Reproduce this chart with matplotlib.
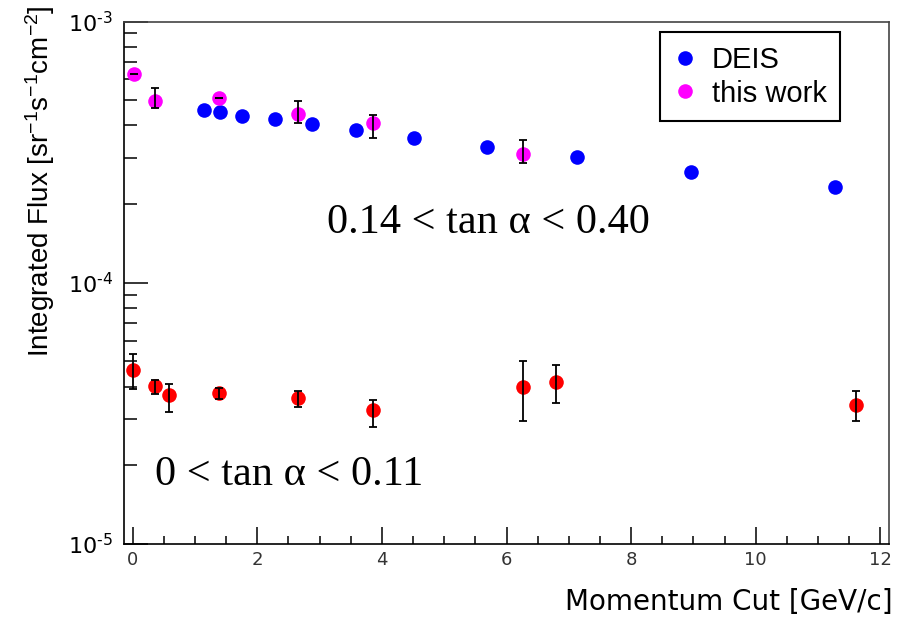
import matplotlib
matplotlib.use("Agg")
import numpy as np
import matplotlib.pyplot as plt
from matplotlib.ticker import MultipleLocator, LogLocator, NullFormatter, FuncFormatter
from matplotlib.lines import Line2D

plt.rcParams['font.family'] = ['Liberation Sans', 'DejaVu Sans']
plt.rcParams['mathtext.fontset'] = 'dejavusans'
plt.rcParams['mathtext.rm'] = 'Liberation Sans'
plt.rcParams['mathtext.it'] = 'Liberation Sans:italic'

# DEIS (0.14 < tan a < 0.40)
deis_x = [1.14, 1.40, 1.75, 2.28, 2.87, 3.58, 4.51, 5.69, 7.13, 8.96, 11.28]
deis_y = [4.58e-4, 4.49e-4, 4.36e-4, 4.23e-4, 4.04e-4, 3.85e-4, 3.58e-4,
          3.31e-4, 3.02e-4, 2.66e-4, 2.32e-4]

# this work (0.14 < tan a < 0.40)
work_x = [0.02, 0.35, 1.38, 2.65, 3.86, 6.26]
work_y = [6.29e-4, 4.95e-4, 5.09e-4, 4.43e-4, 4.10e-4, 3.11e-4]
work_lo = [6.29e-4, 4.65e-4, 5.09e-4, 4.10e-4, 3.59e-4, 2.88e-4]
work_hi = [6.29e-4, 5.56e-4, 5.09e-4, 4.96e-4, 4.38e-4, 3.52e-4]

# 0 < tan a < 0.11
low_x = [0.01, 0.35, 0.59, 1.38, 2.65, 3.86, 6.26, 6.79, 11.61]
low_y = [4.63e-5, 4.03e-5, 3.73e-5, 3.79e-5, 3.63e-5, 3.25e-5, 3.98e-5, 4.17e-5, 3.40e-5]
low_lo = [3.92e-5, 3.74e-5, 3.20e-5, 3.59e-5, 3.35e-5, 2.80e-5, 2.96e-5, 3.47e-5, 2.96e-5]
low_hi = [5.33e-5, 4.24e-5, 4.09e-5, 3.96e-5, 3.84e-5, 3.56e-5, 5.00e-5, 4.85e-5, 3.86e-5]

W, H = 897, 617
fig = plt.figure(figsize=(W / 100, H / 100), dpi=100)
ax = fig.add_axes([124 / W, 1 - 544 / H, (889 - 124) / W, (544 - 21.5) / H])

ms = 10.5
ax.plot(deis_x, deis_y, 'o', color='#0000ff', ms=ms, mec='none', zorder=3)
ax.plot(work_x, work_y, 'o', color='#ff00ff', ms=ms, mec='none', zorder=3)
ax.plot(low_x, low_y, 'o', color='#ff0000', ms=ms, mec='none', zorder=3)

def bars(x, y, lo, hi):
    y = np.array(y)
    err = [y - np.array(lo), np.array(hi) - y]
    ax.errorbar(x, y, yerr=err, fmt='none', ecolor='black', elinewidth=1.3,
                capsize=3, capthick=1.3, zorder=4)

bars(work_x, work_y, work_lo, work_hi)
bars(low_x, low_y, low_lo, low_hi)

ax.set_yscale('log')
ax.set_xlim(-0.14, 12.14)
ax.set_ylim(1e-5, 1e-3)

ax.xaxis.set_major_locator(MultipleLocator(2))
ax.xaxis.set_minor_locator(MultipleLocator(0.5))
ax.yaxis.set_major_locator(LogLocator(base=10, numticks=10))
ax.yaxis.set_minor_locator(LogLocator(base=10, subs=np.arange(2, 10), numticks=20))
ax.yaxis.set_minor_formatter(NullFormatter())
ax.yaxis.set_major_formatter(FuncFormatter(
    lambda v, p: r'$\mathregular{10^{\text{-}%d}}$' % abs(round(np.log10(v)))))

ax.tick_params(axis='x', which='major', direction='in', length=12, width=1.1,
               labelsize=13, labelcolor='#333333', pad=5)
ax.tick_params(axis='x', which='minor', direction='in', length=6, width=1.1)
ax.tick_params(axis='y', which='major', direction='in', length=17, width=1.1,
               labelsize=16, pad=8)
ax.tick_params(axis='y', which='minor', direction='in', length=9, width=1.1)
for lab in ax.get_xticklabels():
    lab.set_family('DejaVu Sans')
for lab in ax.get_yticklabels():
    lab.set_family('DejaVu Sans')

for s in ax.spines.values():
    s.set_linewidth(1.2)
ax.spines['top'].set_color('#444444')
ax.spines['right'].set_color('#444444')

fig.text(40 / W, 1 - 5 / H, r'Integrated Flux [sr$^{-1}$s$^{-1}$cm$^{-2}$]',
         rotation=90, ha='center', va='top', fontsize=20, math_fontfamily='custom')
fig.text(893 / W, 1 - 602 / H, 'Momentum Cut [GeV/c]', ha='right', va='center',
         fontsize=20, family='DejaVu Sans')

fig.text(488 / W, 1 - 223 / H, '0.14 < tan α < 0.40', ha='center', va='center',
         fontsize=30.5, family='Liberation Serif')
fig.text(289 / W, 1 - 475 / H, '0 < tan α < 0.11', ha='center', va='center',
         fontsize=30.5, family='Liberation Serif')

handles = [Line2D([], [], ls='none', marker='o', color='#0000ff', ms=ms, mec='none'),
           Line2D([], [], ls='none', marker='o', color='#ff00ff', ms=ms, mec='none')]
leg = ax.legend(handles, ['DEIS', 'this work'], loc='upper left',
                bbox_to_anchor=((660 - 124) / 765, (544 - 32) / 522.5),
                borderaxespad=0, fancybox=False, framealpha=1, edgecolor='black',
                fontsize=21, handlelength=0.8, handletextpad=0.5,
                labelspacing=0.2, borderpad=0.47)
leg.get_frame().set_linewidth(1.5)

fig.savefig('out.png', dpi=100)
